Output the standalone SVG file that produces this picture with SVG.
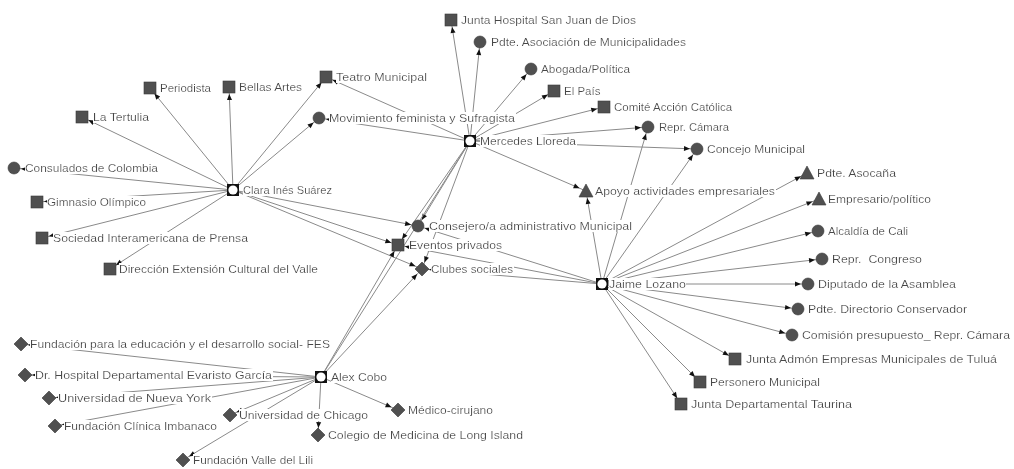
<svg xmlns="http://www.w3.org/2000/svg" xmlns:xlink="http://www.w3.org/1999/xlink" width="1014" height="469" viewBox="0 0 1014 469">
<style>
.e{stroke:#8a8a8a;stroke-width:1;fill:none}
.a{marker-end:url(#arr)}
.n{fill:#505050;stroke:#3a3a3a;stroke-width:0.6}
.t{font-family:"Liberation Sans",Arial,sans-serif;font-size:11.5px;fill:#474747;filter:url(#bg)}
</style>
<defs>
<filter id="bg" x="0" y="0" width="1" height="1"><feFlood flood-color="#ffffff"/><feComposite in="SourceGraphic" operator="over"/></filter>
<marker id="arr" markerUnits="userSpaceOnUse" markerWidth="16" markerHeight="8" refX="13" refY="2.5" orient="auto" overflow="visible"><path d="M0,0 L6,2.5 L0,5 z" fill="#111"/></marker>
<rect id="sq" x="-6" y="-6" width="12" height="12"/>
<circle id="ci" r="6"/>
<polygon id="tri" points="0,-7 7,6 -7,6"/>
<polygon id="di" points="0,-7 7,0 0,7 -7,0"/>
<g id="hub"><rect x="-6" y="-6" width="12" height="12" fill="#111"/><circle r="4.6" fill="#fff"/></g>
</defs>
<rect width="1014" height="469" fill="#fff"/>
<g id="edges">
<line class="e a" x1="233" y1="190" x2="150" y2="88"/>
<line class="e a" x1="233" y1="190" x2="229" y2="87"/>
<line class="e a" x1="233" y1="190" x2="326" y2="77"/>
<line class="e a" x1="233" y1="190" x2="82" y2="117"/>
<line class="e a" x1="233" y1="190" x2="319" y2="118"/>
<line class="e a" x1="233" y1="190" x2="14" y2="168"/>
<line class="e a" x1="233" y1="190" x2="37" y2="202"/>
<line class="e a" x1="233" y1="190" x2="42" y2="238"/>
<line class="e a" x1="233" y1="190" x2="110" y2="269"/>
<line class="e a" x1="233" y1="190" x2="418" y2="226"/>
<line class="e a" x1="233" y1="190" x2="398" y2="245"/>
<line class="e a" x1="233" y1="190" x2="422" y2="269"/>
<line class="e a" x1="470" y1="141" x2="451" y2="20"/>
<line class="e a" x1="470" y1="141" x2="480" y2="42"/>
<line class="e a" x1="470" y1="141" x2="531" y2="69"/>
<line class="e a" x1="470" y1="141" x2="554" y2="91"/>
<line class="e a" x1="470" y1="141" x2="604" y2="107"/>
<line class="e a" x1="470" y1="141" x2="648" y2="127"/>
<line class="e a" x1="470" y1="141" x2="697" y2="149"/>
<line class="e a" x1="470" y1="141" x2="586" y2="191"/>
<line class="e a" x1="470" y1="141" x2="319" y2="118"/>
<line class="e a" x1="470" y1="141" x2="326" y2="77"/>
<line class="e a" x1="470" y1="141" x2="418" y2="226"/>
<line class="e a" x1="470" y1="141" x2="398" y2="245"/>
<line class="e a" x1="470" y1="141" x2="422" y2="269"/>
<line class="e a" x1="602" y1="284" x2="586" y2="191"/>
<line class="e a" x1="602" y1="284" x2="648" y2="127"/>
<line class="e a" x1="602" y1="284" x2="697" y2="149"/>
<line class="e a" x1="602" y1="284" x2="807" y2="173"/>
<line class="e a" x1="602" y1="284" x2="819" y2="199"/>
<line class="e a" x1="602" y1="284" x2="818" y2="231"/>
<line class="e a" x1="602" y1="284" x2="822" y2="259"/>
<line class="e a" x1="602" y1="284" x2="808" y2="284"/>
<line class="e a" x1="602" y1="284" x2="798" y2="309"/>
<line class="e a" x1="602" y1="284" x2="792" y2="335"/>
<line class="e a" x1="602" y1="284" x2="735" y2="359"/>
<line class="e a" x1="602" y1="284" x2="700" y2="382"/>
<line class="e a" x1="602" y1="284" x2="681" y2="404"/>
<line class="e a" x1="602" y1="284" x2="418" y2="226"/>
<line class="e a" x1="602" y1="284" x2="398" y2="245"/>
<line class="e a" x1="602" y1="284" x2="422" y2="269"/>
<line class="e a" x1="321" y1="377" x2="21" y2="344"/>
<line class="e a" x1="321" y1="377" x2="25" y2="375"/>
<line class="e a" x1="321" y1="377" x2="49" y2="398"/>
<line class="e a" x1="321" y1="377" x2="55" y2="426"/>
<line class="e a" x1="321" y1="377" x2="230" y2="415"/>
<line class="e a" x1="321" y1="377" x2="398" y2="410"/>
<line class="e a" x1="321" y1="377" x2="318" y2="435"/>
<line class="e a" x1="321" y1="377" x2="183" y2="460"/>
<line class="e a" x1="321" y1="377" x2="398" y2="245"/>
<line class="e a" x1="321" y1="377" x2="422" y2="269"/>
<line class="e" x1="321" y1="377" x2="470" y2="141"/>
</g>
<g id="n-clara"><text class="t" x="243" y="194" textLength="89" lengthAdjust="spacingAndGlyphs">Clara Inés Suárez</text><use href="#hub" x="233" y="190"/></g>
<g id="n-mercedes"><text class="t" x="480" y="145" textLength="96" lengthAdjust="spacingAndGlyphs">Mercedes Lloreda</text><use href="#hub" x="470" y="141"/></g>
<g id="n-jaime"><text class="t" x="609" y="288" textLength="77" lengthAdjust="spacingAndGlyphs">Jaime Lozano</text><use href="#hub" x="602" y="284"/></g>
<g id="n-alex"><text class="t" x="331" y="381" textLength="56" lengthAdjust="spacingAndGlyphs">Alex Cobo</text><use href="#hub" x="321" y="377"/></g>
<g id="n-periodista"><text class="t" x="160" y="92" textLength="51" lengthAdjust="spacingAndGlyphs">Periodista</text><use href="#sq" class="n" x="150" y="88"/></g>
<g id="n-bellas"><text class="t" x="239" y="91" textLength="63" lengthAdjust="spacingAndGlyphs">Bellas Artes</text><use href="#sq" class="n" x="229" y="87"/></g>
<g id="n-teatro"><text class="t" x="336" y="81" textLength="91" lengthAdjust="spacingAndGlyphs">Teatro Municipal</text><use href="#sq" class="n" x="326" y="77"/></g>
<g id="n-tertulia"><text class="t" x="93" y="121" textLength="56" lengthAdjust="spacingAndGlyphs">La Tertulia</text><use href="#sq" class="n" x="82" y="117"/></g>
<g id="n-movimiento"><text class="t" x="329" y="122" textLength="186" lengthAdjust="spacingAndGlyphs">Movimiento feminista y Sufragista</text><use href="#ci" class="n" x="319" y="118"/></g>
<g id="n-consulados"><text class="t" x="25" y="172" textLength="133" lengthAdjust="spacingAndGlyphs">Consulados de Colombia</text><use href="#ci" class="n" x="14" y="168"/></g>
<g id="n-gimnasio"><text class="t" x="47" y="206" textLength="99" lengthAdjust="spacingAndGlyphs">Gimnasio Olímpico</text><use href="#sq" class="n" x="37" y="202"/></g>
<g id="n-sociedad"><text class="t" x="53" y="242" textLength="195" lengthAdjust="spacingAndGlyphs">Sociedad Interamericana de Prensa</text><use href="#sq" class="n" x="42" y="238"/></g>
<g id="n-direccion"><text class="t" x="119" y="273" textLength="199" lengthAdjust="spacingAndGlyphs">Dirección Extensión Cultural del Valle</text><use href="#sq" class="n" x="110" y="269"/></g>
<g id="n-juntahospital"><text class="t" x="461" y="24" textLength="175" lengthAdjust="spacingAndGlyphs">Junta Hospital San Juan de Dios</text><use href="#sq" class="n" x="451" y="20"/></g>
<g id="n-asociacion"><text class="t" x="491" y="46" textLength="195" lengthAdjust="spacingAndGlyphs">Pdte. Asociación de Municipalidades</text><use href="#ci" class="n" x="480" y="42"/></g>
<g id="n-abogada"><text class="t" x="541" y="73" textLength="89" lengthAdjust="spacingAndGlyphs">Abogada/Política</text><use href="#ci" class="n" x="531" y="69"/></g>
<g id="n-elpais"><text class="t" x="564" y="95">El País</text><use href="#sq" class="n" x="554" y="91"/></g>
<g id="n-comite"><text class="t" x="614" y="111">Comité Acción Católica</text><use href="#sq" class="n" x="604" y="107"/></g>
<g id="n-reprcamara"><text class="t" x="659" y="131" textLength="70" lengthAdjust="spacingAndGlyphs">Repr. Cámara</text><use href="#ci" class="n" x="648" y="127"/></g>
<g id="n-concejo"><text class="t" x="707" y="153" textLength="98" lengthAdjust="spacingAndGlyphs">Concejo Municipal</text><use href="#ci" class="n" x="697" y="149"/></g>
<g id="n-apoyo"><text class="t" x="595" y="195" textLength="180" lengthAdjust="spacingAndGlyphs">Apoyo actividades empresariales</text><use href="#tri" class="n" x="586" y="191"/></g>
<g id="n-consejero"><text class="t" x="429" y="230" textLength="203" lengthAdjust="spacingAndGlyphs">Consejero/a administrativo Municipal</text><use href="#ci" class="n" x="418" y="226"/></g>
<g id="n-eventos"><text class="t" x="409" y="249" textLength="93" lengthAdjust="spacingAndGlyphs">Eventos privados</text><use href="#sq" class="n" x="398" y="245"/></g>
<g id="n-clubes"><text class="t" x="431" y="273" textLength="82" lengthAdjust="spacingAndGlyphs">Clubes sociales</text><use href="#di" class="n" x="422" y="269"/></g>
<g id="n-asocana"><text class="t" x="817" y="177" textLength="79" lengthAdjust="spacingAndGlyphs">Pdte. Asocaña</text><use href="#tri" class="n" x="807" y="173"/></g>
<g id="n-empresario"><text class="t" x="828" y="203" textLength="103" lengthAdjust="spacingAndGlyphs">Empresario/político</text><use href="#tri" class="n" x="819" y="199"/></g>
<g id="n-alcaldia"><text class="t" x="828" y="235" textLength="80" lengthAdjust="spacingAndGlyphs">Alcaldía de Cali</text><use href="#ci" class="n" x="818" y="231"/></g>
<g id="n-congreso"><text class="t" x="832" y="263" textLength="90" lengthAdjust="spacingAndGlyphs">Repr.&#160; Congreso</text><use href="#ci" class="n" x="822" y="259"/></g>
<g id="n-diputado"><text class="t" x="818" y="288" textLength="138" lengthAdjust="spacingAndGlyphs">Diputado de la Asamblea</text><use href="#ci" class="n" x="808" y="284"/></g>
<g id="n-directorio"><text class="t" x="808" y="313" textLength="159" lengthAdjust="spacingAndGlyphs">Pdte. Directorio Conservador</text><use href="#ci" class="n" x="798" y="309"/></g>
<g id="n-comision"><text class="t" x="802" y="339" textLength="208" lengthAdjust="spacingAndGlyphs">Comisión presupuesto_ Repr. Cámara</text><use href="#ci" class="n" x="792" y="335"/></g>
<g id="n-juntaadmon"><text class="t" x="746" y="363" textLength="251" lengthAdjust="spacingAndGlyphs">Junta Admón Empresas Municipales de Tuluá</text><use href="#sq" class="n" x="735" y="359"/></g>
<g id="n-personero"><text class="t" x="710" y="386" textLength="110" lengthAdjust="spacingAndGlyphs">Personero Municipal</text><use href="#sq" class="n" x="700" y="382"/></g>
<g id="n-taurina"><text class="t" x="691" y="408" textLength="161" lengthAdjust="spacingAndGlyphs">Junta Departamental Taurina</text><use href="#sq" class="n" x="681" y="404"/></g>
<g id="n-fes"><text class="t" x="30" y="348" textLength="300" lengthAdjust="spacingAndGlyphs">Fundación para la educación y el desarrollo social- FES</text><use href="#di" class="n" x="21" y="344"/></g>
<g id="n-hospital"><text class="t" x="35" y="379" textLength="237" lengthAdjust="spacingAndGlyphs">Dr. Hospital Departamental Evaristo García</text><use href="#di" class="n" x="25" y="375"/></g>
<g id="n-nuevayork"><text class="t" x="58" y="402" textLength="153" lengthAdjust="spacingAndGlyphs">Universidad de Nueva York</text><use href="#di" class="n" x="49" y="398"/></g>
<g id="n-imbanaco"><text class="t" x="64" y="430" textLength="153" lengthAdjust="spacingAndGlyphs">Fundación Clínica Imbanaco</text><use href="#di" class="n" x="55" y="426"/></g>
<g id="n-chicago"><text class="t" x="239" y="419" textLength="129" lengthAdjust="spacingAndGlyphs">Universidad de Chicago</text><use href="#di" class="n" x="230" y="415"/></g>
<g id="n-medico"><text class="t" x="408" y="414" textLength="85" lengthAdjust="spacingAndGlyphs">Médico-cirujano</text><use href="#di" class="n" x="398" y="410"/></g>
<g id="n-colegio"><text class="t" x="328" y="439" textLength="195" lengthAdjust="spacingAndGlyphs">Colegio de Medicina de Long Island</text><use href="#di" class="n" x="318" y="435"/></g>
<g id="n-valle"><text class="t" x="193" y="464" textLength="120" lengthAdjust="spacingAndGlyphs">Fundación Valle del Lili</text><use href="#di" class="n" x="183" y="460"/></g>
</svg>
